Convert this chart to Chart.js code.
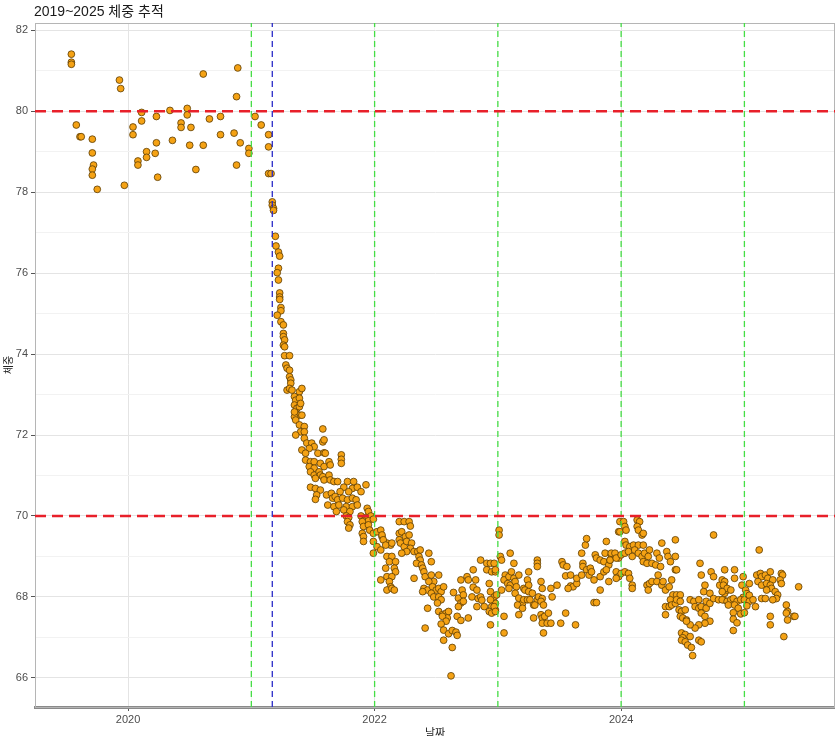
<!DOCTYPE html>
<html lang="ko">
<head>
    <meta charset="UTF-8">
    <title>2019~2025 체중 추적</title>
    <script src="https://cdn.jsdelivr.net/npm/chart.js"></script>
    <style>
        body { margin: 0; background: #fff; }
        canvas { display: block; }
    </style>
</head>
<body>
    <canvas id="weightChart" width="835" height="736"></canvas>

    <script>
        // [날짜(연 단위 소수), 체중 kg]
        const w2019 = [[2019.54,81.41],[2019.54,81.21],[2019.54,81.16],[2019.58,79.66],[2019.61,79.37],[2019.62,79.37],[2019.71,79.31],[2019.71,78.97],[2019.72,78.67],[2019.71,78.57],[2019.71,78.42],[2019.75,78.07],[2019.93,80.77],[2019.94,80.56],[2019.97,78.17]];
        const w2020 = [[2020.04,79.61],[2020.04,79.42],[2020.11,79.97],[2020.11,79.76],[2020.08,78.77],[2020.08,78.67],[2020.15,79.0],[2020.15,78.86],[2020.23,79.87],[2020.23,79.22],[2020.22,78.96],[2020.24,78.37],[2020.34,80.02],[2020.36,79.28],[2020.43,79.71],[2020.43,79.6],[2020.48,80.07],[2020.48,79.91],[2020.51,79.6],[2020.50,79.16],[2020.55,78.56],[2020.61,80.92],[2020.61,79.16],[2020.66,79.81],[2020.75,79.87],[2020.75,79.42],[2020.86,79.46],[2020.88,80.36],[2020.89,81.07],[2020.88,78.67],[2020.91,79.22],[2020.98,79.08],[2020.98,78.96]];
        const w2021 = [[2021.03,79.87],[2021.08,79.66],[2021.14,79.42],[2021.14,79.12],[2021.14,78.46],[2021.16,78.46],[2021.17,77.76],[2021.17,77.68],[2021.18,77.60],[2021.18,77.55],
            [2021.195,76.91],[2021.20,76.67],[2021.22,76.52],[2021.23,76.42],[2021.22,76.12],[2021.21,76.01],[2021.22,75.83],[2021.23,75.51],[2021.23,75.41],[2021.23,75.35],[2021.24,75.15],[2021.24,75.07],[2021.21,74.96],[2021.24,74.80],[2021.26,74.72],[2021.26,74.51],[2021.26,74.43],[2021.27,74.35],[2021.26,74.22],[2021.27,74.18],[2021.27,73.96],[2021.31,73.96],[2021.28,73.73],[2021.29,73.65],[2021.31,73.60],[2021.31,73.44],[2021.32,73.36],[2021.32,73.28],[2021.29,73.11],[2021.31,73.15],[2021.33,73.11],[2021.39,73.07],[2021.41,73.15],[2021.35,72.95],[2021.36,72.86],[2021.39,72.91],[2021.35,72.74],[2021.37,72.66],[2021.39,72.70],[2021.40,72.78],[2021.36,72.53],[2021.39,72.49],[2021.41,72.49],[2021.35,72.45],
            [2021.35,72.57],[2021.36,72.37],[2021.39,72.25],[2021.43,72.21],[2021.40,72.08],[2021.43,72.08],[2021.36,72.0],[2021.58,72.15],
            [2021.43,71.92],[2021.45,71.80],[2021.49,71.80],[2021.51,71.71],[2021.47,71.67],[2021.58,71.83],[2021.59,71.88],
            [2021.41,71.63],[2021.44,71.55],[2021.54,71.55],[2021.59,71.56],[2021.60,71.55],[2021.73,71.51],[2021.73,71.40],[2021.73,71.30],
            [2021.44,71.38],[2021.48,71.34],[2021.51,71.34],[2021.56,71.30],[2021.47,71.22],[2021.51,71.18],[2021.59,71.22],[2021.63,71.34],[2021.64,71.26],
            [2021.48,71.09],[2021.51,71.01],[2021.55,71.09],[2021.56,71.01],[2021.52,70.93],[2021.58,70.97],[2021.59,70.89],[2021.63,71.01],[2021.64,70.89],[2021.67,70.85],[2021.70,70.85],
            [2021.78,70.85],[2021.83,70.85],[2021.93,70.77],[2021.75,70.71],[2021.82,70.68],[2021.86,70.71],[2021.89,70.60],[2021.79,70.60],[2021.72,70.60],
            [2021.48,70.71],[2021.52,70.68],[2021.56,70.64],[2021.53,70.52],[2021.61,70.52],[2021.65,70.56],[2021.66,70.44],[2021.52,70.41],[2021.68,70.48],[2021.70,70.40],[2021.74,70.44],[2021.78,70.40],[2021.82,70.44],[2021.85,70.40],
            [2021.62,70.27],[2021.67,70.23],[2021.71,70.27],[2021.77,70.23],[2021.82,70.23],[2021.86,70.27],[2021.69,70.11],[2021.75,70.15],[2021.80,70.11],[2021.94,70.19],[2021.95,70.11],
            [2021.77,70.0],[2021.79,69.96],[2021.89,70.0],[2021.93,69.96],[2021.97,70.0],[2021.91,69.88],[2021.95,69.88],[2021.99,69.92],
            [2021.78,69.86],[2021.80,69.78],[2021.79,69.70],[2021.90,69.86],[2021.91,69.74],[2021.95,69.78],[2021.96,69.65],[2021.90,69.57],[2021.91,69.49],[2021.91,69.37],[2021.99,69.57],[2021.99,69.37],[2021.99,69.08]];
        const w2022 = [[2022.02,69.61],[2022.02,69.24],[2022.05,69.65],[2022.06,69.49],[2022.10,69.33],[2022.13,69.28],[2022.05,69.16],
            [2022.20,69.86],[2022.24,69.86],[2022.28,69.86],[2022.29,69.75],
            [2022.06,69.53],[2022.07,69.41],[2022.09,69.28],[2022.14,69.33],[2022.20,69.57],[2022.22,69.61],[2022.25,69.49],[2022.28,69.53],[2022.20,69.41],[2022.21,69.33],[2022.24,69.24],[2022.26,69.37],[2022.30,69.33],[2022.29,69.20],[2022.32,69.12],[2022.26,69.12],[2022.22,69.08],[2022.35,69.12],[2022.37,69.16],
            [2022.10,69.0],[2022.14,69.0],[2022.12,68.87],[2022.17,68.87],[2022.09,68.71],[2022.16,68.71],[2022.17,68.62],[2022.10,68.50],[2022.14,68.50],[2022.32,68.46],[2022.12,68.38],[2022.13,68.25],[2022.10,68.17],[2022.14,68.21],[2022.16,68.17],[2022.05,68.42],
            [2022.36,69.0],[2022.37,68.91],[2022.34,68.83],[2022.38,68.79],[2022.39,68.71],[2022.40,68.62],[2022.44,69.08],[2022.46,68.87],[2022.41,68.50],[2022.46,68.54],[2022.52,68.54],[2022.48,68.38],[2022.44,68.38],[2022.40,68.21],[2022.43,68.17],[2022.39,68.13],[2022.47,68.25],[2022.50,68.17],[2022.52,68.21],[2022.54,68.13],[2022.56,68.25],[2022.46,68.09],[2022.48,68.0],[2022.52,68.0],[2022.54,67.93],
            [2022.43,67.72],[2022.41,67.23],[2022.51,67.85],[2022.52,67.64],[2022.55,67.56],[2022.58,67.60],[2022.60,67.64],[2022.59,67.48],[2022.55,67.52],[2022.58,67.40],[2022.54,67.33],[2022.56,67.18],[2022.60,67.09],[2022.63,67.17],[2022.66,67.13],[2022.67,67.05],[2022.56,66.93],[2022.63,66.75],[2022.62,66.05],
            [2022.64,68.11],[2022.68,67.97],[2022.70,68.42],[2022.71,68.17],[2022.72,68.05],[2022.70,67.85],[2022.68,67.76],[2022.72,67.89],[2022.67,67.52],[2022.70,67.42],[2022.76,67.48],[2022.75,68.50],[2022.76,68.42],[2022.80,68.67],[2022.82,68.42],[2022.80,68.24],[2022.83,68.17],[2022.79,68.0],[2022.84,67.96],[2022.86,68.0],[2022.87,67.92],[2022.83,67.76],[2022.89,67.76],[2022.86,68.91],[2022.91,68.83],[2022.94,68.83],[2022.91,68.67],[2022.95,68.62],[2022.98,68.62],[2022.93,68.33],[2022.94,68.13],[2022.97,68.0],[2022.98,67.84],[2022.95,67.76],[2022.98,67.68],[2022.93,67.64],[2022.94,67.31],
            [2022.97,68.83],[2022.98,68.67],[2022.94,67.93],[2022.97,67.76],[2022.95,67.60],[2022.98,67.64],[2022.99,68.05]];
        const w2023 = [[2023.01,69.65],[2023.01,69.53],[2023.02,69.0],[2023.03,68.91],[2023.10,69.08],[2023.13,68.83],[2023.06,68.54],[2023.05,68.42],[2023.09,68.50],[2023.11,68.62],[2023.13,68.46],[2023.08,68.33],[2023.10,68.29],[2023.14,68.38],[2023.09,68.21],[2023.15,68.25],[2023.17,68.54],[2023.21,68.21],[2023.25,68.62],[2023.24,68.42],[2023.25,68.29],[2023.32,68.91],[2023.32,68.83],[2023.32,68.75],[2023.35,68.38],[2023.36,68.21],[2023.03,68.17],[2023.14,68.09],[2023.17,67.97],[2023.20,67.84],[2023.16,67.80],[2023.20,67.72],[2023.22,68.17],[2023.25,68.13],[2023.21,67.93],[2023.24,67.93],[2023.26,67.93],[2023.28,68.09],[2023.29,67.80],[2023.32,67.93],[2023.33,68.0],[2023.36,67.96],[2023.35,67.89],[2023.37,67.80],[2023.30,67.80],[2023.17,67.56],[2023.05,67.52],[2023.05,67.11],[2023.29,67.48],[2023.35,67.56],[2023.36,67.48],[2023.38,67.52],[2023.41,67.60],[2023.36,67.35],[2023.40,67.35],[2023.43,67.35],[2023.37,67.11],[2023.44,68.0],[2023.43,68.21],[2023.48,68.29],[2023.51,67.35],[2023.55,67.60],[2023.63,67.31],
            [2023.52,68.87],[2023.53,68.79],[2023.56,68.75],[2023.55,68.52],[2023.59,68.54],[2023.59,68.27],[2023.61,68.25],[2023.57,68.21],[2023.64,68.33],[2023.64,68.46],[2023.68,68.54],[2023.69,68.83],[2023.68,69.08],[2023.71,69.28],[2023.72,69.44],[2023.69,68.75],[2023.72,68.67],[2023.75,68.71],[2023.74,68.54],[2023.76,68.62],[2023.78,68.42],[2023.79,69.04],[2023.80,68.96],[2023.83,68.91],[2023.86,68.87],[2023.87,69.08],[2023.88,69.37],[2023.90,68.79],[2023.83,68.50],[2023.86,68.62],[2023.88,68.67],[2023.91,68.91],[2023.92,69.04],[2023.95,69.0],[2023.98,68.96],[2023.98,69.61],[2023.96,68.62],[2023.98,68.50],[2023.90,68.38],[2023.83,68.17],[2023.78,67.86],[2023.80,67.86],
            [2023.99,69.86],[2023.99,69.61],[2023.92,69.08],[2023.95,69.08],[2023.91,68.91],[2023.96,68.96],[2023.96,68.46]];
        const w2024 = [[2024.02,69.86],[2024.03,69.74],[2024.04,69.65],[2024.13,69.90],[2024.15,69.86],[2024.13,69.74],[2024.14,69.65],[2024.17,69.53],[2024.18,69.57],
            [2024.0,69.04],[2024.03,69.37],[2024.04,69.28],[2024.07,69.24],[2024.10,69.28],[2024.14,69.28],[2024.18,69.28],[2024.03,69.08],[2024.06,69.12],[2024.09,69.0],[2024.11,69.16],[2024.14,69.08],[2024.17,69.0],[2024.19,69.08],[2024.23,69.16],[2024.22,69.0],[2024.18,68.87],[2024.21,68.83],[2024.25,68.83],[2024.29,69.08],[2024.31,68.96],[2024.33,69.33],[2024.37,69.12],[2024.38,69.0],[2024.40,68.87],[2024.44,69.0],[2024.44,69.41],[2024.28,68.79],[2024.32,68.75],
            [2024.0,68.58],[2024.03,68.62],[2024.06,68.58],[2024.07,68.46],[2024.09,68.29],[2024.09,68.21],[2024.21,68.29],[2024.22,68.17],[2024.23,68.33],[2024.25,68.38],[2024.29,68.38],[2024.30,68.54],[2024.33,68.29],[2024.34,68.38],[2024.36,68.17],[2024.39,68.25],[2024.41,68.42],[2024.44,68.67],[2024.45,68.67],[2024.42,68.05],[2024.45,68.05],[2024.48,68.05],[2024.40,67.93],[2024.36,67.76],[2024.39,67.76],[2024.41,67.80],[2024.44,67.84],[2024.45,67.93],[2024.48,67.89],[2024.47,67.68],[2024.49,67.64],[2024.52,67.68],[2024.48,67.52],[2024.50,67.48],[2024.53,67.43],[2024.56,67.93],[2024.59,67.89],[2024.63,67.93],[2024.60,67.76],[2024.63,67.72],[2024.65,67.76],[2024.69,67.89],[2024.69,67.72],[2024.72,67.84],[2024.67,68.13],[2024.72,68.09],[2024.75,67.96],[2024.79,67.93],[2024.83,67.93],[2024.84,68.09],[2024.80,68.29],[2024.84,68.25],[2024.86,68.17],[2024.73,68.62],[2024.75,68.50],[2024.84,68.67],[2024.64,68.83],[2024.65,68.54],[2024.68,68.29],[2024.75,69.53],[2024.65,67.60],[2024.68,67.52],[2024.72,67.40],[2024.68,67.35],[2024.63,67.31],[2024.60,67.23],[2024.56,67.31],[2024.53,67.40],[2024.49,67.11],[2024.52,67.07],[2024.50,66.99],[2024.56,67.02],[2024.49,66.93],[2024.52,66.89],[2024.54,66.81],[2024.57,66.75],[2024.58,66.55],[2024.63,66.93],[2024.65,66.89],[2024.36,67.56],
            [2024.92,68.67],[2024.82,68.42],[2024.84,68.38],[2024.92,68.46],[2024.83,68.29],[2024.86,68.21],[2024.89,68.17],[2024.82,68.13],[2024.99,68.50],[2024.98,68.29],[2024.99,67.99],[2024.82,67.93],[2024.86,67.89],[2024.89,67.93],[2024.91,67.96],[2024.94,67.89],[2024.97,67.93],[2024.87,67.80],[2024.92,67.80],[2024.95,67.72],[2024.91,67.61],[2024.97,67.58],[2024.91,67.45],[2024.94,67.36],[2024.91,67.17]];
        const w2025 = [[2025.0,67.93],[2025.00,67.61],[2025.01,68.17],[2025.04,68.33],[2025.02,68.08],[2025.04,68.04],[2025.04,67.89],[2025.02,67.78],[2025.07,67.93],[2025.09,67.76],[2025.12,69.16],[2025.10,68.54],[2025.13,68.58],[2025.14,68.50],[2025.17,68.54],[2025.21,68.62],[2025.19,68.46],[2025.23,68.42],[2025.30,68.58],[2025.31,68.54],[2025.29,68.42],[2025.30,68.33],[2025.11,68.38],[2025.14,68.29],[2025.18,68.33],[2025.21,68.29],[2025.22,68.21],[2025.25,68.13],[2025.18,68.17],[2025.27,68.05],[2025.14,67.96],[2025.17,67.96],[2025.26,67.96],[2025.23,67.93],[2025.44,68.25],[2025.34,67.80],[2025.35,67.64],[2025.34,67.60],[2025.21,67.52],[2025.21,67.31],[2025.40,67.52],[2025.41,67.52],[2025.35,67.43],[2025.32,67.02]];

        // 기준선
        const targetLines = [80, 70];                          // 빨간 가로선
        const yearLines = [2021, 2022, 2023, 2024, 2025];      // 초록 세로선
        const startLine = 2021.17;                             // 파란 세로선

        const xTicks = [2020, 2021, 2022, 2023, 2024, 2025];
        const yTicks = [66, 67, 68, 69, 70, 71, 72, 73, 74, 75, 76, 77, 78, 79, 80, 81, 82];
        const xMin = 2019.245, xMax = 2025.735;
        const yMin = 65.28, yMax = 82.18;

        const allPoints = [...w2019, ...w2020, ...w2021, ...w2022, ...w2023, ...w2024, ...w2025]
            .map(p => ({ x: p[0], y: p[1] }));

        const lineSets = [];
        targetLines.forEach(v => lineSets.push({
            type: 'line', data: [{ x: xMin, y: v }, { x: xMax, y: v }],
            borderColor: '#E8202A', borderWidth: 2.6, borderDash: [11, 6],
            pointRadius: 0, fill: false, order: 0
        }));
        yearLines.forEach(v => lineSets.push({
            type: 'line', data: [{ x: v, y: yMin }, { x: v, y: yMax }],
            borderColor: '#45DE45', borderWidth: 1.3, borderDash: [6, 4],
            pointRadius: 0, fill: false, order: 0
        }));
        lineSets.push({
            type: 'line', data: [{ x: startLine, y: yMin }, { x: startLine, y: yMax }],
            borderColor: '#2B2BC8', borderWidth: 1.3, borderDash: [6, 4],
            pointRadius: 0, fill: false, order: 0
        });

        const tickFont = { family: "'Liberation Sans', 'Noto Sans CJK KR', sans-serif", size: 11 };

        const panelPlugin = {
            id: 'panel',
            beforeDatasetsDraw(chart) {
                const a = chart.chartArea, ctx = chart.ctx;
                ctx.save();
                ctx.strokeStyle = '#B5B5B5';
                ctx.lineWidth = 1;
                ctx.strokeRect(a.left + 0.5, a.top + 0.5, a.right - a.left - 1, a.bottom - a.top);
                ctx.restore();
            },
            afterDraw(chart) {
                const ctx = chart.ctx;
                ctx.save();
                ctx.fillStyle = '#1A1A1A';
                ctx.font = "14px 'Liberation Sans', 'Noto Sans CJK KR', sans-serif";
                ctx.textBaseline = 'alphabetic';
                ctx.fillText('2019~2025 체중 추적', 34, 16);
                ctx.restore();
            }
        };

        new Chart(document.getElementById('weightChart'), {
            type: 'scatter',
            data: {
                datasets: [...lineSets, {
                    label: '체중',
                    data: allPoints,
                    backgroundColor: '#F5A214',
                    borderColor: '#5A3C05',
                    borderWidth: 0.8,
                    pointRadius: 3.4,
                    order: 1
                }]
            },
            options: {
                responsive: false,
                animation: false,
                layout: { autoPadding: false, padding: { top: 23, left: 0, right: 0, bottom: 0 } },
                plugins: { legend: { display: false }, tooltip: { enabled: false } },
                scales: {
                    x: {
                        type: 'linear', min: xMin, max: xMax,
                        afterBuildTicks: axis => { axis.ticks = xTicks.map(v => ({ value: v })); },
                        afterFit: axis => { axis.height = 29; axis.paddingLeft = 0; axis.paddingRight = 0; },
                        ticks: {
                            font: tickFont, color: '#4D4D4D', padding: 2, maxRotation: 0,
                            callback: v => (v % 2 === 0 ? String(v) : '')
                        },
                        grid: {
                            color: c => (c.tick && c.tick.value % 2 === 0 ? '#E4E4E4' : '#F2F2F2'),
                            tickColor: c => (c.tick && c.tick.value % 2 === 0 ? '#555' : 'rgba(0,0,0,0)'),
                            tickLength: 4
                        },
                        border: { color: '#8A8A8A', width: 3 },
                        title: { display: true, text: '날짜', font: tickFont, color: '#222', padding: { top: 0, bottom: -5 } }
                    },
                    y: {
                        min: yMin, max: yMax,
                        afterBuildTicks: axis => { axis.ticks = yTicks.map(v => ({ value: v })); },
                        afterFit: axis => { axis.width = 35; },
                        ticks: {
                            font: tickFont, color: '#4D4D4D', padding: 3,
                            callback: v => (v % 2 === 0 ? String(v) : '')
                        },
                        grid: {
                            color: c => (c.tick && c.tick.value % 2 === 0 ? '#E4E4E4' : '#F2F2F2'),
                            tickColor: c => (c.tick && c.tick.value % 2 === 0 ? '#555' : 'rgba(0,0,0,0)'),
                            tickLength: 4
                        },
                        border: { color: '#9A9A9A', width: 1 },
                        title: { display: true, text: '체중', font: { family: tickFont.family, size: 10 }, color: '#222', padding: { top: 3, bottom: 0 } }
                    }
                }
            },
            plugins: [panelPlugin]
        });
    </script>
</body>
</html>
